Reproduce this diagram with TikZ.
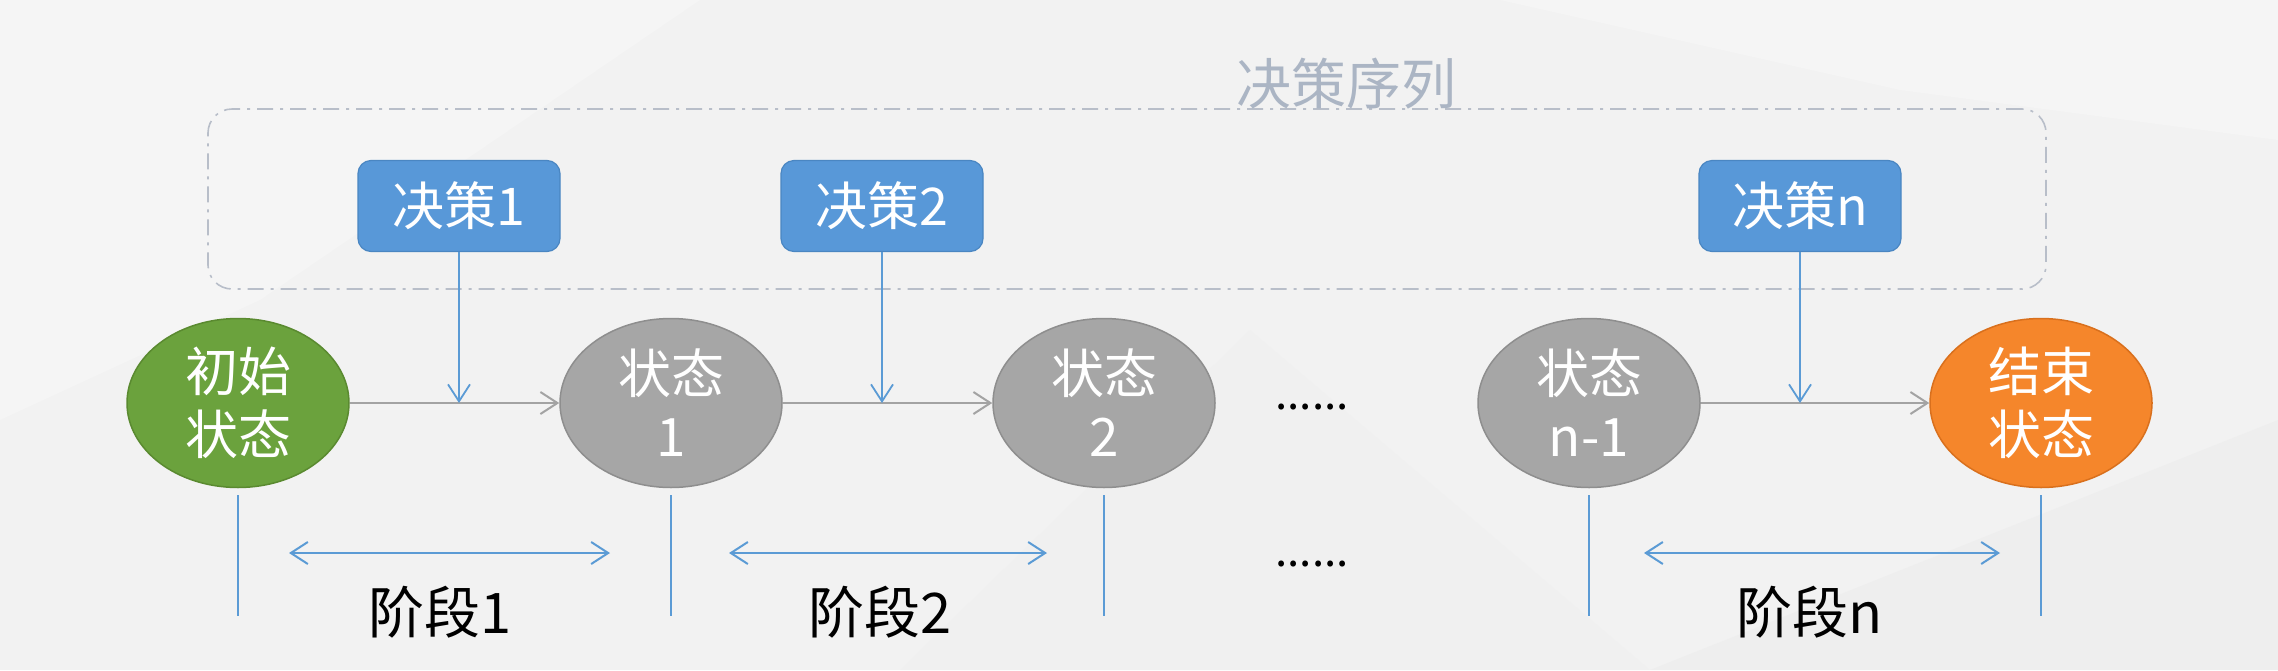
\documentclass[tikz,border=0pt]{standalone}
\usepackage{fontspec}
\setmainfont{Noto Sans CJK SC}
\usetikzlibrary{shapes.geometric,arrows.meta,calc}
\definecolor{bgc}{HTML}{F2F2F2}
\definecolor{bgl}{HTML}{F5F5F5}
\definecolor{bgd}{HTML}{EEEEEE}
\definecolor{boxblue}{HTML}{5898D8}
\definecolor{boxedge}{HTML}{4A86C2}
\definecolor{lineblue}{HTML}{5B9BD5}
\definecolor{greenfill}{HTML}{6BA23D}
\definecolor{greenedge}{HTML}{5A8A30}
\definecolor{grayfill}{HTML}{A6A6A6}
\definecolor{grayedge}{HTML}{8E8E8E}
\definecolor{orangefill}{HTML}{F5862B}
\definecolor{orangeedge}{HTML}{D9701D}
\definecolor{arrowgray}{HTML}{A3A3A3}
\definecolor{dashc}{HTML}{B8BEC9}
\definecolor{titlec}{HTML}{ABB5C4}
\tikzset{
  decbox/.style={draw=boxedge, line width=1.2pt, fill=boxblue, rounded corners=13pt,
    minimum width=202pt, minimum height=91pt, inner sep=0pt, text=white,
    font=\fontsize{52}{58}\selectfont},
  stnode/.style={ellipse, line width=1.5pt, minimum width=222pt, minimum height=169pt,
    inner sep=0pt, text=white, align=center, font=\fontsize{53}{63}\selectfont},
  seqbox/.style={draw=dashc, line width=1.6pt, rounded corners=24pt,
    dash pattern=on 16pt off 7pt on 3pt off 7pt, minimum width=1838pt, minimum height=180pt, inner sep=0pt},
  titletext/.style={text=titlec, font=\fontsize{55}{60}\selectfont, inner sep=0pt},
  stagetext/.style={text=black, font=\fontsize{56}{60}\selectfont, inner sep=0pt},
  dotstext/.style={text=black, font=\fontsize{44}{50}\selectfont, inner sep=0pt},
  flow/.style={draw=arrowgray, line width=2pt, -{Straight Barb[length=17pt,width=22pt,line width=2pt]}},
  decarrow/.style={draw=lineblue, line width=1.8pt, -{Straight Barb[length=17pt,width=22pt,line width=1.8pt]}},
  guide/.style={draw=lineblue, line width=1.8pt},
  span/.style={draw=lineblue, line width=2pt, {Straight Barb[length=17pt,width=22pt,line width=2pt]}-{Straight Barb[length=17pt,width=22pt,line width=2pt]}}
}
\begin{document}
\begin{tikzpicture}[x=1pt,y=-1pt]
\useasboundingbox (0,0) rectangle (2278,670);
% background
\fill[bgc] (0,0) rectangle (2278,670);
\fill[bgl] (0,0) -- (700,0) -- (260,300) -- (0,420) -- cycle;
\fill[bgl] (1500,0) -- (2278,0) -- (2278,140) -- (1900,90) -- cycle;
\fill[bgd] (1650,670) -- (2278,420) -- (2278,670) -- cycle;
\fill[bgd!50!bgc] (900,670) -- (1250,330) -- (1650,670) -- cycle;

% decision sequence frame
\node[seqbox] (seq) at (1127,199) {};
\node[titletext] (title) at (1346,84) {决策序列};

% decision boxes
\node[decbox] (d1) at (459,206) {决策1};
\node[decbox] (d2) at (882,206) {决策2};
\node[decbox] (dn) at (1800,206) {决策n};

% states
\node[stnode, fill=greenfill, draw=greenedge] (s0) at (238,403) {初始\\状态};
\node[stnode, fill=grayfill, draw=grayedge] (s1) at (671,403) {状态\\1};
\node[stnode, fill=grayfill, draw=grayedge] (s2) at (1104,403) {状态\\2};
\node[stnode, fill=grayfill, draw=grayedge] (sn1) at (1589,403) {状态\\n-1};
\node[stnode, fill=orangefill, draw=orangeedge] (se) at (2041,403) {结束\\状态};

% ellipsis
\node[dotstext, anchor=base] (dots1) at (1312,409) {......};
\node[dotstext, anchor=base] (dots2) at (1312,566) {......};

% flow arrows
\draw[flow] (s0.east) -- (s1.west);
\draw[flow] (s1.east) -- (s2.west);
\draw[flow] (sn1.east) -- (se.west);

% decision arrows
\draw[decarrow] (d1.south) -- (d1.south |- s0.east);
\draw[decarrow] (d2.south) -- (d2.south |- s1.east);
\draw[decarrow] (dn.south) -- (dn.south |- sn1.east);

% stage guides
\foreach \s in {s0,s1,s2,sn1,se}{
  \draw[guide] ($(\s.south)+(0,7)$) -- ($(\s.south)+(0,128)$);
}

% stage spans
\coordinate (a1) at (289,553); \coordinate (b1) at (610,553);
\coordinate (a2) at (729,553); \coordinate (b2) at (1047,553);
\coordinate (an) at (1644,553); \coordinate (bn) at (2000,553);
\draw[span] (a1) -- (b1);
\draw[span] (a2) -- (b2);
\draw[span] (an) -- (bn);

% stage labels
\node[stagetext] (l1) at (440,612) {阶段1};
\node[stagetext] (l2) at (880,612) {阶段2};
\node[stagetext] (ln) at (1810,612) {阶段n};
\end{tikzpicture}
\end{document}
